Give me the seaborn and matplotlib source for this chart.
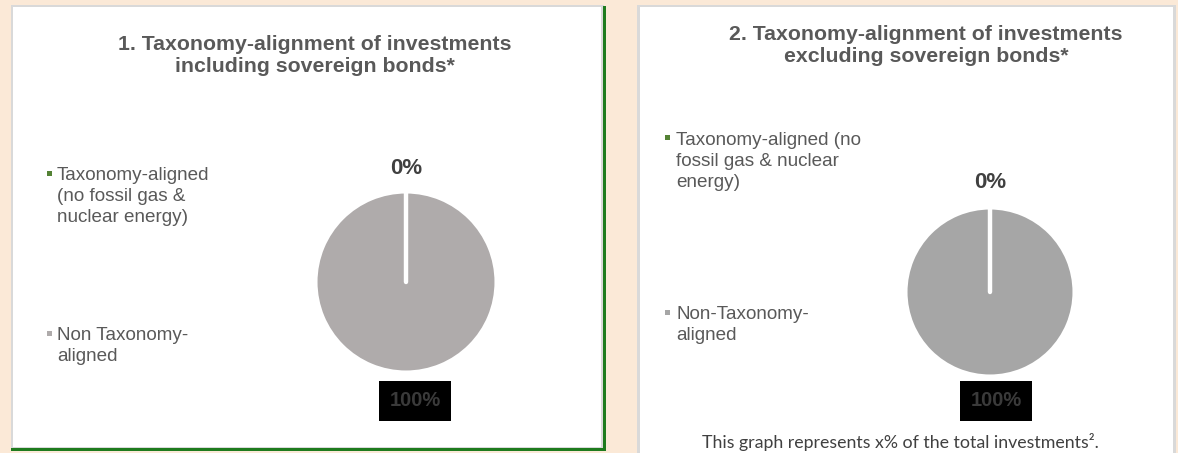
import matplotlib
matplotlib.use("Agg")
import numpy as np
import matplotlib.pyplot as plt
from matplotlib.patches import Rectangle
import seaborn as sns

# ---- data -------------------------------------------------------------
categories = ["Taxonomy-aligned", "Non-Taxonomy-aligned"]
incl_values = [0, 100]     # including sovereign bonds
excl_values = [0, 100]     # excluding sovereign bonds

titles = [
    "1. Taxonomy-alignment of investments\nincluding sovereign bonds*",
    "2. Taxonomy-alignment of investments\nexcluding sovereign bonds*",
]
legend_labels_1 = ["Taxonomy-aligned\n(no fossil gas &\nnuclear energy)",
                   "Non Taxonomy-\naligned"]
legend_labels_2 = ["Taxonomy-aligned (no\nfossil gas & nuclear\nenergy)",
                   "Non-Taxonomy-\naligned"]
footer = "This graph represents x% of the total investments\u00b2."

# ---- style ------------------------------------------------------------
sns.set_theme(style="white")
plt.rcParams["font.family"] = ["Liberation Sans", "DejaVu Sans"]

green = "#548235"
pal1 = sns.color_palette([green, "#AFABAB"])
pal2 = sns.color_palette([green, "#A6A6A6"])
text_grey = "#595959"
label_grey = "#404040"
bg = "#FBE9D7"

W, H = 1178, 453
fig = plt.figure(figsize=(W / 100, H / 100), dpi=100)
fig.patch.set_facecolor(bg)


def px_rect(x0, y0, x1, y1, z=-5, **kw):
    """Rectangle given in pixel coordinates measured from the top-left."""
    r = Rectangle((x0 / W, 1 - y1 / H), (x1 - x0) / W, (y1 - y0) / H,
                  transform=fig.transFigure, figure=fig, zorder=z, **kw)
    fig.patches.append(r)
    return r


# panel frames
px_rect(11, 5, 604, 450, facecolor="#D9D9D9", edgecolor="none")
px_rect(13, 7, 601, 447, facecolor="white", edgecolor="none")
px_rect(603, 6, 605.5, 450, facecolor="#1E7B1E", edgecolor="none")
px_rect(11, 448, 605.5, 450.5, facecolor="#1E7B1E", edgecolor="none")

px_rect(637, 5, 1176, 460, facecolor="#D9D9D9", edgecolor="none")
px_rect(640, 7, 1173, 460, facecolor="white", edgecolor="none")


def draw_pie(values, palette, cx, cy, r, top_y, box_cx, box_cy):
    ax = fig.add_axes([(cx - r) / W, 1 - (cy + r) / H, 2 * r / W, 2 * r / H])
    ax.set_zorder(5)
    ax.patch.set_alpha(0)
    ax.pie(values, colors=list(palette), startangle=90, counterclock=False,
           radius=1, wedgeprops=dict(edgecolor="white", linewidth=2.2))
    # slice boundaries (a full-circle wedge has no radial edge of its own)
    bounds = 90 - 360 * np.cumsum([0] + list(values))[:-1] / np.sum(values)
    for ang in np.unique(np.round(bounds, 6)):
        t = np.deg2rad(ang)
        ax.plot([0, np.cos(t)], [0, np.sin(t)], color="white", lw=3.2,
                solid_capstyle="round", zorder=4)
    ax.set_xlim(-1, 1)
    ax.set_ylim(-1, 1)
    ax.set_aspect("equal")
    ax.axis("off")
    # value labels
    ax.text(0, (cy - top_y) / r, f"{values[0]:.0f}%", ha="center", va="center",
            fontsize=16, fontweight="bold", color=label_grey, clip_on=False)
    ax.text((box_cx - cx) / r, (cy - box_cy) / r, f"{values[1]:.0f}%",
            ha="center", va="center", fontsize=14.5, fontweight="bold",
            color="#3A3A3A", clip_on=False,
            bbox=dict(boxstyle="square,pad=0.5", facecolor="black", edgecolor="none"))
    return ax


draw_pie(incl_values, pal1, 406, 282, 90, 168, 415, 401)
draw_pie(excl_values, pal2, 990, 292, 84, 182, 996, 401)

# titles
fig.text(315 / W, 1 - 56 / H, titles[0], ha="center", va="center", fontsize=15.3,
         fontweight="bold", color=text_grey, linespacing=1.2)
fig.text(926 / W, 1 - 45 / H, titles[1], ha="center", va="center", fontsize=15.3,
         fontweight="bold", color=text_grey, linespacing=1.2)


def legend_entry(mx, tx, y_first, label, color):
    px_rect(mx - 2.5, y_first - 2.5, mx + 2.5, y_first + 2.5, z=3,
            facecolor=color, edgecolor="none")
    fig.text(tx / W, 1 - (y_first - 6) / H, label, ha="left", va="top",
             fontsize=13.6, color=text_grey, linespacing=1.3)


legend_entry(49, 57, 173, legend_labels_1[0], pal1[0])
legend_entry(49, 57, 333, legend_labels_1[1], pal1[1])
legend_entry(667, 676, 138, legend_labels_2[0], pal2[0])
legend_entry(667, 676, 312, legend_labels_2[1], pal2[1])

# footnote under the second chart
fig.text(900 / W, 1 - 442 / H, footer, ha="center", va="center", fontsize=12.8,
         color=label_grey, family=["Lato", "DejaVu Sans"])

fig.savefig("out.png", dpi=100, facecolor=bg)
